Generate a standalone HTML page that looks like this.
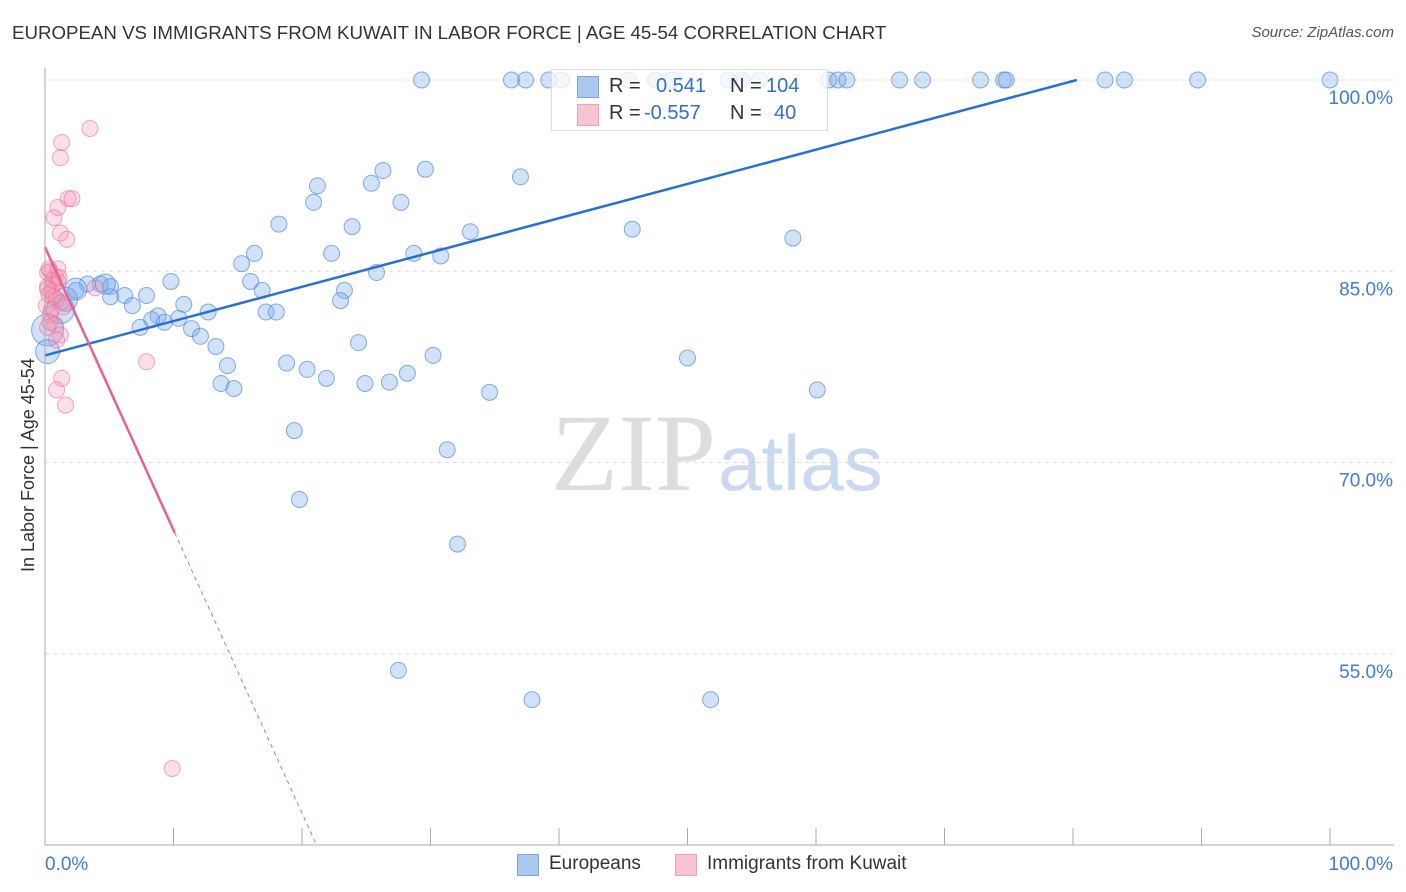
<!DOCTYPE html>
<html><head><meta charset="utf-8"><style>
body{margin:0;background:#fff;font-family:"Liberation Sans",sans-serif;}
#wrap{position:relative;width:1406px;height:892px;overflow:hidden;}
.t{position:absolute;white-space:nowrap;}
</style></head><body>
<div id="wrap">
<div class="t" style="left:12px;top:22px;font-size:18.7px;color:#333;">EUROPEAN VS IMMIGRANTS FROM KUWAIT IN LABOR FORCE | AGE 45-54 CORRELATION CHART</div>
<div class="t" style="right:12px;top:24px;font-size:15px;color:#555;font-style:italic;">Source: ZipAtlas.com</div>
<svg id="svg" width="1406" height="892" style="position:absolute;left:0;top:0">
<g id="grid"></g>
<text x="716" y="490" font-family="Liberation Serif" font-size="110" fill="#ddd" text-anchor="end">ZIP</text>
<text x="718" y="490" font-family="Liberation Sans" font-size="78" fill="#c9daf0">atlas</text>
<g id="pts"></g><g id="lines"></g><g id="axes"></g>
</svg>
<div style="position:absolute;left:551px;top:69px;width:275px;height:60px;border:1px solid #ddd;background:rgba(255,255,255,0.75);font-size:20px;">
<div style="position:absolute;left:25px;top:6px;width:20px;height:20px;background:#aac8f0;border:1px solid #7aa6e0"></div>
<div class="t" style="left:57px;top:5px;color:#333">R =</div><div class="t" style="left:104px;top:5px;color:#2f6fd0">0.541</div>
<div class="t" style="left:178px;top:5px;color:#333">N =</div><div class="t" style="left:214px;top:5px;color:#2f6fd0">104</div>
<div style="position:absolute;left:25px;top:34px;width:20px;height:20px;background:#f8c4d2;border:1px solid #f0a0b8"></div>
<div class="t" style="left:57px;top:32px;color:#333">R =</div><div class="t" style="left:92px;top:32px;color:#2f6fd0">-0.557</div>
<div class="t" style="left:178px;top:32px;color:#333">N =</div><div class="t" style="left:222px;top:32px;color:#2f6fd0">40</div>
</div>
<div style="position:absolute;left:517px;top:854px;width:20px;height:20px;background:#aac8f0;border:1px solid #7aa6e0"></div>
<div class="t" style="left:549px;top:853px;font-size:19px;color:#333">Europeans</div>
<div style="position:absolute;left:675px;top:854px;width:20px;height:20px;background:#f8c4d2;border:1px solid #f0a0b8"></div>
<div class="t" style="left:707px;top:853px;font-size:19px;color:#333">Immigrants from Kuwait</div>
<div class="t" style="left:18px;top:572px;font-size:18px;color:#333;transform:rotate(-90deg);transform-origin:0 0;">In Labor Force | Age 45-54</div>
</div>
<script>
const yTicks=[100,85,70,55];
const yTickLabels=["100.0%","85.0%","70.0%","55.0%"];
const xEnds=["0.0%","100.0%"];
const bx=[29.3,36.3,37.4,39.2,40.2,45.4,47.5,48.8,53.2,54.2,55.6,61.0,61.7,62.4,66.5,68.3,72.8,74.6,74.8,82.5,84.0,89.7,100,
21.2,20.9,25.4,26.3,29.6,27.7,37.0,18.2,23.9,33.1,45.7,58.2,16.3,15.3,22.3,28.7,30.8,25.8,16.0,16.9,23.3,23.0,9.8,4.3,3.3,5.1,2.4,6.2,7.9,5.1,6.8,10.8,12.7,8.8,8.3,9.3,10.4,7.4,11.4,12.1,17.2,18.0,13.3,24.4,30.2,14.2,18.8,20.4,21.9,24.9,26.8,28.2,13.7,14.7,34.6,50.0,60.1,19.4,31.3,19.8,32.1,27.5,37.9,51.8,1.2,0.2,0.2,1.6,2.4,4.7];
const by=[100,100,100,100,100,100,100,100,100,100,100,100,100,100,100,100,100,100,100,100,100,100,100,
91.7,90.4,91.9,92.9,93.0,90.4,92.4,88.7,88.5,88.1,88.3,87.6,86.4,85.6,86.4,86.4,86.2,84.9,84.2,83.5,83.5,82.7,84.2,84.0,84.0,83.8,83.5,83.1,83.1,83.0,82.3,82.4,81.8,81.5,81.2,81.0,81.3,80.6,80.5,79.9,81.8,81.8,79.1,79.4,78.4,77.6,77.8,77.3,76.6,76.2,76.3,77.0,76.2,75.8,75.5,78.2,75.7,72.5,71.0,67.1,63.6,53.7,51.4,51.4,82.0,80.4,78.7,82.8,83.6,84.0];
const bsize=[8,8,8,8,8,8,8,8,8,8,8,8,8,8,8,8,8,8,8,8,8,8,8,
8,8,8,8,8,8,8,8,8,8,8,8,8,8,8,8,8,8,8,8,8,8,8,8,8,8,8,8,8,8,8,8,8,8,8,8,8,8,8,8,8,8,8,8,8,8,8,8,8,8,8,8,8,8,8,8,8,8,8,8,8,8,8,8,14,16,12,12,11,10];
const px=[3.5,1.3,1.2,1.8,2.1,1.0,0.7,1.2,1.7,7.9,1.3,0.9,1.6,9.9,3.9,0.4,0.8,0.2,0.5,1.0,0.1,0.4,0.8,1.2,0.2,1.3,1.0,0.6,0.3,0.9,0.2,0.6,0.4,0.9,1.4,0.7,0.3,1.1,0.5,0.2];
const py=[96.2,95.1,93.9,90.7,90.7,90.0,89.2,88.0,87.5,77.9,76.6,75.7,74.5,46.0,83.7,85.0,84.6,83.8,83.4,84.2,82.3,81.6,80.8,80.0,80.6,82.6,85.2,83.9,83.2,82.8,84.9,84.3,81.0,79.6,82.2,83.0,85.2,84.5,82.0,83.6];
const blueFit=[78.4,0.269];
const pinkFit=[86.9,-2.22];
const X=v=>45+v*12.85, Y=v=>80+(100-v)*12.75;
const NS="http://www.w3.org/2000/svg";
function mk(tag,at,parent){const e=document.createElementNS(NS,tag);for(const k in at)e.setAttribute(k,at[k]);document.getElementById(parent).appendChild(e);return e;}
yTicks.forEach((t,i)=>{
 const g=mk('line',{x1:45,x2:1394,y1:Y(t),y2:Y(t),stroke:'#ddd','stroke-dasharray':'4,4'},'grid');
 
 
 const l=mk('text',{x:1393,y:Y(t)+24,'text-anchor':'end','font-size':19,fill:'#3d7bd6','font-family':'Liberation Sans'},'axes');l.textContent=yTickLabels[i];
 
 
});
const ax=mk('line',{x1:45,x2:45,y1:68,y2:845,stroke:'#aaa'},'axes');


const ax2=mk('line',{x1:45,x2:1394,y1:845,y2:845,stroke:'#aaa'},'axes');


for(let i=0;i<=10;i++){const tk=mk('line',{x1:X(i*10),x2:X(i*10),y1:828,y2:845,stroke:'#aaa'},'axes');
 
 }
[[0,'start',45],[100,'end',1393]].forEach((d,i)=>{const t=mk('text',{x:d[2],y:870,'text-anchor':d[1],'font-size':19,fill:'#3d7bd6','font-family':'Liberation Sans'},'axes');t.textContent=xEnds[i];
 
 });
bx.forEach((v,i)=>{const c=mk('circle',{cx:X(v),cy:Y(by[i]),r:bsize[i],fill:'rgba(120,170,235,0.35)',stroke:'rgba(70,130,220,0.65)','stroke-width':1},'pts');
 
 });
px.forEach((v,i)=>{const c=mk('circle',{cx:X(v),cy:Y(py[i]),r:8,fill:'rgba(245,150,180,0.3)',stroke:'rgba(235,110,150,0.6)','stroke-width':1},'pts');
 
 });
const xb=(100-blueFit[0])/blueFit[1];
const bl=mk('line',{x1:X(0),y1:Y(blueFit[0]),x2:X(xb),y2:Y(100),stroke:'#2a6fd6','stroke-width':2.5},'lines');


const pl=mk('line',{x1:X(0),y1:Y(pinkFit[0]),x2:X(10.1),y2:Y(pinkFit[0]+pinkFit[1]*10.1),stroke:'#e8608e','stroke-width':2.5},'lines');


const xe=(40.2-pinkFit[0])/pinkFit[1];
const pd=mk('line',{x1:X(10.1),y1:Y(pinkFit[0]+pinkFit[1]*10.1),x2:X(xe),y2:Y(40.2),stroke:'#e8608e','stroke-width':1,'stroke-dasharray':'4,4'},'lines');


</script>
</body></html>
